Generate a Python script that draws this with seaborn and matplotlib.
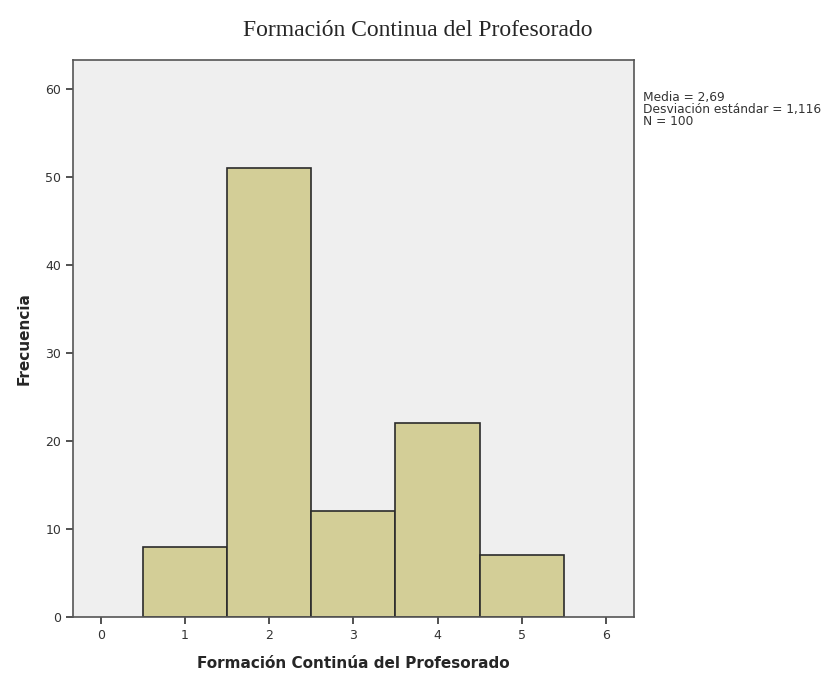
import matplotlib
matplotlib.use('Agg')
import matplotlib.pyplot as plt
import seaborn as sns
import pandas as pd

# datos del histograma
valores = [1, 2, 3, 4, 5]
frecuencias = [8, 51, 12, 22, 7]
media = 2.69
desviacion = 1.116
n_total = 100

sns.set_style('ticks')
plt.rcParams['font.family'] = ['DejaVu Sans']

df = pd.DataFrame({'valor': valores, 'frecuencia': frecuencias})

fig = plt.figure(figsize=(8.35, 6.79), dpi=100)
ax = fig.add_axes([0.0874, 0.0913, 0.6716, 0.8203])
ax.set_facecolor('#efefef')

sns.histplot(data=df, x='valor', weights='frecuencia', discrete=True,
             color='#d3ce97', edgecolor='#2b2b2b', linewidth=1.2,
             alpha=1, ax=ax)

ax.set_xlim(-0.33, 6.33)
ax.set_ylim(0, 63.3)
ax.set_xticks(range(0, 7))
ax.set_yticks(range(0, 61, 10))
ax.tick_params(direction='out', length=5, width=1.2, color='#333333',
               labelsize=9, labelcolor='#333333')
for s in ax.spines.values():
    s.set_visible(True)
    s.set_color('#555555')
    s.set_linewidth(1.2)

ax.set_xlabel('Formación Continúa del Profesorado', fontsize=11,
              fontweight='bold', labelpad=10)
ax.set_ylabel('Frecuencia', fontsize=11, fontweight='bold', labelpad=10)

fig.text(0.5, 0.955, 'Formación Continua del Profesorado',
         family='Liberation Serif', fontsize=17, ha='center', va='center')

info = f'Media = {media:.2f}\nDesviación estándar = {desviacion:.3f}\nN = {n_total}'
info = info.replace('.', ',')
fig.text(0.770, 0.866, info, fontsize=8.8, ha='left', va='top',
         color='#333333', linespacing=0.88)

fig.savefig('out.png', dpi=100)
